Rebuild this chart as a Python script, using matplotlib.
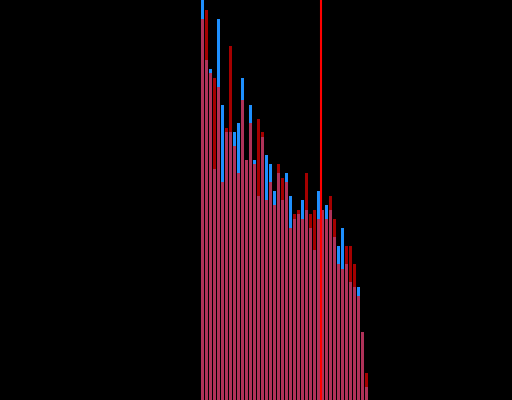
import numpy as np
import matplotlib
matplotlib.use("Agg")
import matplotlib.pyplot as plt

# bin index of each bar (left edge)
bins = np.arange(42)

# first series (blue)
blue_counts = [400, 340, 331, 231, 381, 295, 268, 268, 268, 277,
               322, 240, 295, 240, 204, 263, 245, 236, 209, 227,
               200, 227, 204, 181, 186, 200, 190, 172, 150, 209,
               190, 195, 190, 163, 154, 172, 136, 118, 113, 113,
               68, 13]

# second series (red, drawn translucent over the blue)
red_counts = [381, 390, 327, 322, 313, 218, 272, 354, 254, 227,
              300, 240, 277, 236, 281, 268, 200, 218, 195, 236,
              222, 218, 172, 186, 190, 181, 227, 186, 190, 181,
              190, 181, 204, 181, 136, 131, 154, 154, 136, 104,
              68, 27]

# marker line position (in bin units)
marker = 29.875

fig = plt.figure(figsize=(5.12, 4.0), dpi=100, facecolor="black")
ax = fig.add_axes([0, 0, 1, 1])
ax.set_facecolor("black")

ax.bar(bins, blue_counts, width=0.75, align="edge", color="dodgerblue", linewidth=0)
ax.bar(bins, red_counts, width=0.75, align="edge", color="red", alpha=0.65, linewidth=0)
ax.axvline(marker, color="red", linewidth=1.5)

ax.set_xlim(-50.25, 77.75)
ax.set_ylim(0, 400)
ax.axis("off")

fig.savefig("out.png", dpi=100, facecolor="black")
